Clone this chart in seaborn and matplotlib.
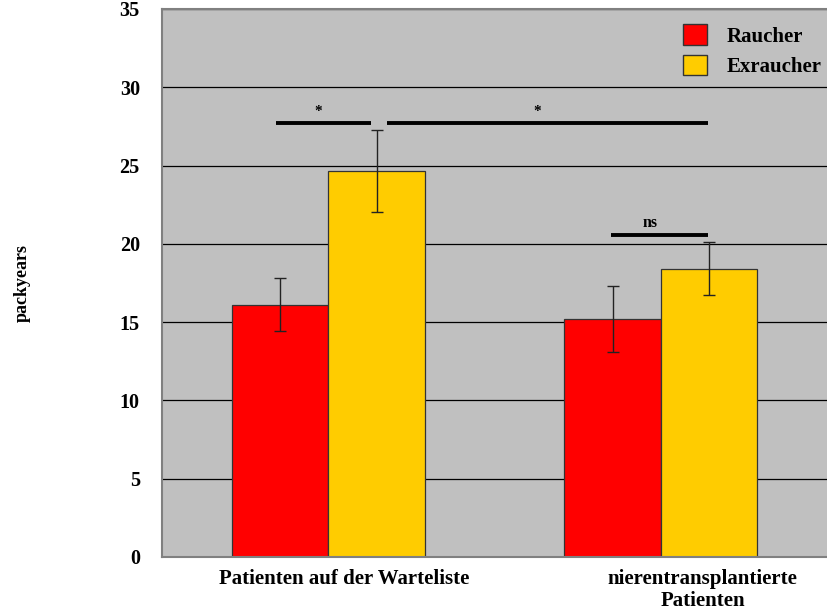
import matplotlib
matplotlib.use("Agg")
import matplotlib.pyplot as plt
import matplotlib.transforms as mtrans
import seaborn as sns
import pandas as pd
import numpy as np
from matplotlib.patches import Patch
from matplotlib import font_manager as fm
import matplotlib.patheffects as pe

categories = ["Patienten auf der Warteliste", "nierentransplantierte\nPatienten"]
groups = ["Raucher", "Exraucher"]
raucher = [16.1, 15.2]
exraucher = [24.65, 18.4]
raucher_err = [1.7, 2.1]
exraucher_err = [2.6, 1.7]
yticks = [0, 5, 10, 15, 20, 25, 30, 35]
colors = ["#FF0000", "#FFCC00"]

sns.set_theme(style="white")
plt.rcParams["font.family"] = ["Liberation Serif", "DejaVu Serif"]
plt.rcParams["text.color"] = "black"

bold_file = None
for f in fm.fontManager.ttflist:
    if f.name == "Liberation Serif" and f.style == "normal" and (
            f.weight in (600, 700, 800, "bold") or "bold" in f.fname.lower()):
        bold_file = f.fname
        break
EFFECTS = []
if bold_file is None:
    EFFECTS = [pe.withStroke(linewidth=0.9, foreground="black")]

def FP(size):
    if bold_file:
        return fm.FontProperties(fname=bold_file, size=size)
    return fm.FontProperties(family="Liberation Serif", weight="bold", size=size)

df = pd.DataFrame({
    "cat": categories * 2,
    "grp": [groups[0]] * 2 + [groups[1]] * 2,
    "val": raucher + exraucher,
})

fig = plt.figure(figsize=(8.27, 6.13), dpi=100)
ax = fig.add_axes([0.196, 0.0914, 0.804, 0.894])
ax.set_facecolor("#C0C0C0")
ax.set_axisbelow(True)
ax.yaxis.grid(True, color="#000000", linewidth=0.9)

sns.barplot(data=df, x="cat", y="val", hue="grp", palette=colors, width=0.58,
            errorbar=None, edgecolor="#333333", linewidth=0.9, ax=ax, legend=False,
            saturation=1)

errs = {groups[0]: raucher_err, groups[1]: exraucher_err}
vals = {groups[0]: raucher, groups[1]: exraucher}
for cont, g in zip(ax.containers, groups):
    xs = [p.get_x() + p.get_width() / 2 for p in cont.patches]
    ax.errorbar(xs, vals[g], yerr=errs[g], fmt="none", ecolor="#222222",
                elinewidth=1.0, capsize=4.5, capthick=1.0, zorder=5)

ax.set_xlim(-0.5, 1.5)
ax.set_ylim(0, 35)
ax.set_yticks(yticks)
ax.set_yticklabels([str(v) for v in yticks], fontproperties=FP(14.5), color="black")
ax.set_xticks([0, 1])
ax.set_xticklabels(categories, fontproperties=FP(15), color="black", linespacing=1.12)
ax.tick_params(axis="both", length=0)
ax.tick_params(axis="y", pad=16)
ax.tick_params(axis="x", pad=9)
for lbl in ax.get_yticklabels() + ax.get_xticklabels():
    lbl.set_path_effects(EFFECTS)
# category labels sit slightly right of the group centres in the original
for lbl, dx in zip(ax.get_xticklabels(), [0.16, 0.42]):
    lbl.set_transform(lbl.get_transform() + mtrans.ScaledTranslation(dx, 0, fig.dpi_scale_trans))
ax.set_xlabel("")
ax.set_ylabel("packyears", fontproperties=FP(13), color="black", path_effects=EFFECTS)
ax.yaxis.set_label_coords(-0.197, 0.5)

for side in ["left", "top", "bottom"]:
    ax.spines[side].set_color("#808080")
    ax.spines[side].set_linewidth(1.5)
ax.spines["right"].set_visible(False)

def xpix(px):
    return -0.5 + (px - 162) / 665 * 2

sig_y = 27.7
ax.plot([xpix(276), xpix(371)], [sig_y, sig_y], color="black", lw=2.8, solid_capstyle="butt")
ax.plot([xpix(387), xpix(708)], [sig_y, sig_y], color="black", lw=2.8, solid_capstyle="butt")
for xp in (318, 537):
    ax.text(xpix(xp), sig_y + 0.35, "*", ha="center", va="bottom", color="black",
            fontproperties=FP(11), path_effects=EFFECTS)
ns_y = 20.55
ax.plot([xpix(611), xpix(708)], [ns_y, ns_y], color="black", lw=2.8, solid_capstyle="butt")
ax.text(xpix(650), ns_y + 0.25, "ns", ha="center", va="bottom", color="black",
        fontproperties=FP(11.5), path_effects=EFFECTS)

handles = [Patch(facecolor=c, edgecolor="#333333", label=g) for c, g in zip(colors, groups)]
leg = ax.legend(handles=handles, loc="upper right", bbox_to_anchor=(1.0045, 0.987),
                frameon=False, prop=FP(15), handlelength=1.15, handleheight=1.15,
                borderaxespad=0.0, borderpad=0.4, labelspacing=0.38, handletextpad=0.95,
                labelcolor="black")
for t in leg.get_texts():
    t.set_path_effects(EFFECTS)

fig.savefig("out.png", dpi=100)
